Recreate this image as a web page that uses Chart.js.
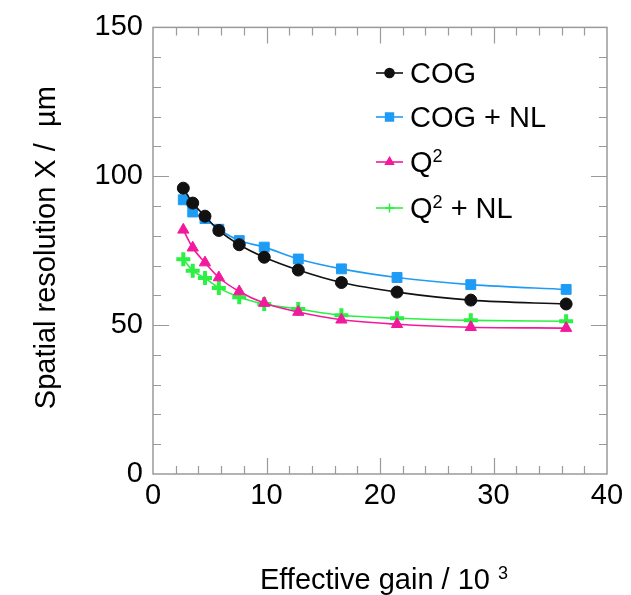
<!DOCTYPE html>
<html>
<head>
<meta charset="utf-8">
<script src="https://cdn.jsdelivr.net/npm/chart.js@4"></script>
<style>
  html, body { margin: 0; padding: 0; background: #fff; }
  #wrap { width: 631px; height: 595px; position: relative; }
</style>
</head>
<body>
<div id="wrap"><canvas id="chart" width="631" height="595"></canvas></div>
<script>
// ── 데이터 ──
const gain = [2.67, 3.5, 4.58, 5.8, 7.6, 9.8, 12.8, 16.6, 21.5, 28.0, 36.4];
const cog = [96.0, 91.0, 86.6, 81.8, 77.0, 72.8, 68.5, 64.3, 61.1, 58.4, 57.1];
const cogNL = [92.1, 88.0, 85.8, 82.2, 78.4, 76.2, 72.2, 68.9, 66.0, 63.6, 62.0];
const q2 = [82.0, 76.0, 71.0, 66.0, 61.3, 57.4, 54.4, 51.8, 50.3, 49.3, 49.0];
const q2NL = [72.1, 68.3, 65.8, 62.5, 59.4, 57.1, 55.4, 53.3, 52.3, 51.6, 51.3];

const xTicks = [0, 10, 20, 30, 40];
const yTicks = [0, 50, 100, 150];

const FONT = '"Liberation Sans", Arial, Helvetica, sans-serif';
const FRAME = '#9a9a9a';

const pts = arr => arr.map((v, i) => ({ x: gain[i], y: v }));

function series(label, data, color, style, r, bw) {
  return {
    label, data: pts(data),
    borderColor: color, backgroundColor: color,
    pointBackgroundColor: color, pointBorderColor: color,
    pointStyle: style, pointRadius: r, pointBorderWidth: bw,
    borderWidth: 1.6, cubicInterpolationMode: 'monotone', fill: false
  };
}

const datasets = [
  series('COG', cog, '#111111', 'circle', 6, 1),
  series('COG + NL', cogNL, '#1e9cf5', 'rect', 7, 1),
  series('Q2', q2, '#f3199d', 'triangle', 6.5, 1),
  series('Q2 + NL', q2NL, '#2cf043', 'cross', 7, 4)
];

/** 틱 마크 + 테두리 */
const framePlugin = {
  id: 'frame',
  afterDraw(chart) {
    const { ctx, chartArea: a, scales: { x, y } } = chart;
    ctx.save();
    ctx.strokeStyle = FRAME;
    ctx.lineWidth = 1.5;
    ctx.strokeRect(a.left, a.top, a.right - a.left, a.bottom - a.top);
    ctx.lineWidth = 1.2;
    ctx.beginPath();
    x.ticks.forEach(t => {
      if (t.value <= x.min || t.value >= x.max) return;
      const px = Math.round(x.getPixelForValue(t.value)) + 0.5;
      const len = xTicks.includes(t.value) ? 16 : 8;
      ctx.moveTo(px, a.bottom); ctx.lineTo(px, a.bottom - len);
      ctx.moveTo(px, a.top); ctx.lineTo(px, a.top + len);
    });
    y.ticks.forEach(t => {
      if (t.value <= y.min || t.value >= y.max) return;
      const py = Math.round(y.getPixelForValue(t.value)) + 0.5;
      const len = yTicks.includes(t.value) ? 16 : 8;
      ctx.moveTo(a.left, py); ctx.lineTo(a.left + len, py);
      ctx.moveTo(a.right, py); ctx.lineTo(a.right - len, py);
    });
    ctx.stroke();
    ctx.restore();
  }
};

/** 위첨자 포함 텍스트 */
function drawSup(ctx, parts, x, y, size) {
  let cx = x;
  parts.forEach(p => {
    ctx.font = (p.sup ? Math.round(size * 0.62) : size) + 'px ' + FONT;
    ctx.fillText(p.t, cx, p.sup ? y - size * 0.36 : y);
    cx += ctx.measureText(p.t).width;
  });
  return cx - x;
}

function measureSup(ctx, parts, size) {
  let w = 0;
  parts.forEach(p => {
    ctx.font = (p.sup ? Math.round(size * 0.62) : size) + 'px ' + FONT;
    w += ctx.measureText(p.t).width;
  });
  return w;
}

const legendParts = [
  [{ t: 'COG' }],
  [{ t: 'COG + NL' }],
  [{ t: 'Q' }, { t: '2', sup: true }],
  [{ t: 'Q' }, { t: '2', sup: true }, { t: ' + NL' }]
];

/** 범례 + 축 제목 */
const textPlugin = {
  id: 'texts',
  afterDraw(chart) {
    const { ctx, chartArea: a } = chart;
    ctx.save();
    ctx.textBaseline = 'alphabetic';

    // 범례
    const rows = [73, 117, 162, 208];
    chart.data.datasets.forEach((ds, i) => {
      const yy = rows[i];
      ctx.strokeStyle = ds.borderColor;
      ctx.fillStyle = ds.borderColor;
      ctx.lineWidth = 1.6;
      ctx.beginPath();
      ctx.moveTo(376, yy); ctx.lineTo(403, yy);
      ctx.stroke();
      Chart.helpers.drawPoint(ctx, {
        pointStyle: ds.pointStyle,
        radius: ds.pointStyle === 'rect' ? 5.5 : 4.5,
        borderWidth: ds.pointStyle === 'cross' ? 3 : 1,
        rotation: 0
      }, 389.5, yy);
      ctx.fillStyle = '#000';
      drawSup(ctx, legendParts[i], 410, yy + 10, 29);
    });

    // x축 제목
    const xParts = [{ t: 'Effective gain / 10 ' }, { t: '3', sup: true }];
    const w = measureSup(ctx, xParts, 29);
    drawSup(ctx, xParts, (a.left + a.right) / 2 + 4 - w / 2, 589, 29);

    // y축 제목
    ctx.translate(55, (a.top + a.bottom) / 2 - 3);
    ctx.rotate(-Math.PI / 2);
    ctx.font = '29px ' + FONT;
    ctx.textAlign = 'center';
    ctx.fillText('Spatial resolution X /  \u00b5m', 0, 0);
    ctx.restore();
  }
};

const tickFont = { family: FONT, size: 29 };

new Chart(document.getElementById('chart').getContext('2d'), {
  type: 'scatter',
  data: { datasets: datasets.map(d => Object.assign({ showLine: true }, d)) },
  options: {
    responsive: false,
    animation: false,
    events: [],
    layout: { padding: { top: 24, right: 24, left: 0, bottom: 0 } },
    plugins: { legend: { display: false }, tooltip: { enabled: false } },
    scales: {
      x: {
        type: 'linear', min: 0, max: 40,
        grid: { display: false, drawTicks: false },
        border: { display: false },
        ticks: {
          stepSize: 2, autoSkip: false, maxRotation: 0, padding: 5,
          color: '#000', font: tickFont,
          callback: v => xTicks.includes(v) ? String(v) : ''
        },
        afterFit: s => { s.height = 121; }
      },
      y: {
        type: 'linear', min: 0, max: 150,
        grid: { display: false, drawTicks: false },
        border: { display: false },
        ticks: {
          stepSize: 10, autoSkip: false, padding: 10,
          color: '#000', font: tickFont,
          callback: v => yTicks.includes(v) ? String(v) : ''
        },
        afterFit: s => { s.width = 153; }
      }
    }
  },
  plugins: [framePlugin, textPlugin]
});
</script>
</body>
</html>
